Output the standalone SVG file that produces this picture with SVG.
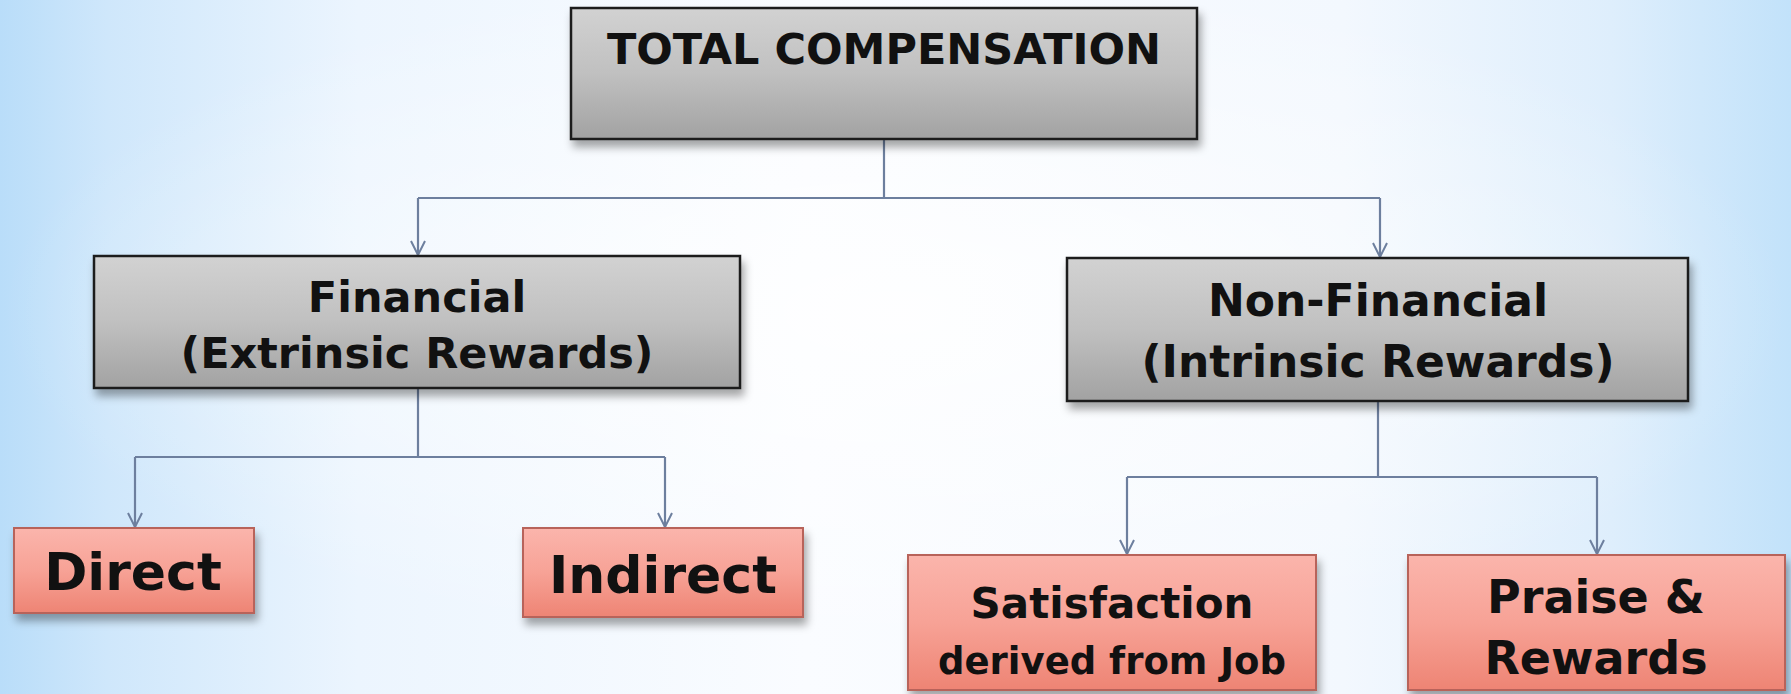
<svg xmlns="http://www.w3.org/2000/svg" width="1791" height="694" viewBox="0 0 1791 694">
  <defs>
    <linearGradient id="bgh" x1="0" y1="0" x2="1" y2="0">
      <stop offset="0" stop-color="#b9ddf9"/>
      <stop offset="0.06" stop-color="#cfe7fb"/>
      <stop offset="0.2" stop-color="#ecf5fe"/>
      <stop offset="0.45" stop-color="#fafcff"/>
      <stop offset="0.75" stop-color="#f3f8fe"/>
      <stop offset="0.9" stop-color="#deeefc"/>
      <stop offset="1" stop-color="#c2e2fa"/>
    </linearGradient>
    <radialGradient id="glow" cx="0.5" cy="0.45" r="0.5">
      <stop offset="0" stop-color="#ffffff" stop-opacity="0.8"/>
      <stop offset="1" stop-color="#ffffff" stop-opacity="0"/>
    </radialGradient>
    <linearGradient id="grey" x1="0" y1="0" x2="0" y2="1">
      <stop offset="0" stop-color="#d2d2d2"/>
      <stop offset="0.5" stop-color="#c0c0c0"/>
      <stop offset="1" stop-color="#a2a2a2"/>
    </linearGradient>
    <linearGradient id="pink" x1="0" y1="0" x2="0" y2="1">
      <stop offset="0" stop-color="#fbb5ac"/>
      <stop offset="0.5" stop-color="#f7a296"/>
      <stop offset="1" stop-color="#ee8474"/>
    </linearGradient>
    <filter id="sh" x="-10%" y="-10%" width="125%" height="140%">
      <feDropShadow dx="3" dy="7" stdDeviation="4" flood-color="#000" flood-opacity="0.35"/>
    </filter>
    <marker id="arr" markerWidth="20" markerHeight="20" refX="10" refY="18" orient="0" markerUnits="userSpaceOnUse">
      <polyline points="3,4 10,18 17,4" fill="none" stroke="#6d7f9e" stroke-width="2"/>
    </marker>
    <style>
      .g { fill: url(#grey); stroke: #1e1e1e; stroke-width: 2.5; filter: url(#sh); }
      .p { fill: url(#pink); stroke: #b8645a; stroke-width: 2; filter: url(#sh); }
      text { font-family: "DejaVu Sans", "Liberation Sans", sans-serif; font-weight: bold; fill: #111; text-anchor: middle; }
      .c { fill: none; stroke: #6d7f9e; stroke-width: 2.2; }
    </style>
  </defs>
  <rect width="1791" height="694" fill="url(#bgh)"/>
  <rect width="1791" height="694" fill="url(#glow)"/>

  <g id="connectors">
    <path class="c" d="M884,139 V198"/>
    <path class="c" d="M418,198 H1380"/>
    <path class="c" d="M418,198 V255" marker-end="url(#arr)"/>
    <path class="c" d="M1380,198 V257" marker-end="url(#arr)"/>
    <path class="c" d="M418,388 V457"/>
    <path class="c" d="M135,457 H665"/>
    <path class="c" d="M135,457 V527" marker-end="url(#arr)"/>
    <path class="c" d="M665,457 V527" marker-end="url(#arr)"/>
    <path class="c" d="M1378,401 V477"/>
    <path class="c" d="M1127,477 H1597"/>
    <path class="c" d="M1127,477 V554" marker-end="url(#arr)"/>
    <path class="c" d="M1597,477 V554" marker-end="url(#arr)"/>
  </g>

  <g id="total">
    <rect class="g" x="571" y="8" width="626" height="131"/>
    <text x="884" y="64" font-size="43">TOTAL COMPENSATION</text>
  </g>
  <g id="financial">
    <rect class="g" x="94" y="256" width="646" height="132"/>
    <text x="417" y="312" font-size="43">Financial</text>
    <text x="417" y="368" font-size="43">(Extrinsic Rewards)</text>
  </g>
  <g id="nonfinancial">
    <rect class="g" x="1067" y="258" width="621" height="143"/>
    <text x="1378" y="316" font-size="44">Non-Financial</text>
    <text x="1378" y="377" font-size="44">(Intrinsic Rewards)</text>
  </g>
  <g id="direct">
    <rect class="p" x="14" y="528" width="240" height="85"/>
    <text x="133" y="590" font-size="52">Direct</text>
  </g>
  <g id="indirect">
    <rect class="p" x="523" y="528" width="280" height="89"/>
    <text x="663" y="593" font-size="52">Indirect</text>
  </g>
  <g id="satisfaction">
    <rect class="p" x="908" y="555" width="408" height="135"/>
    <text x="1112" y="618" font-size="42">Satisfaction</text>
    <text x="1112" y="674" font-size="37">derived from Job</text>
  </g>
  <g id="praise">
    <rect class="p" x="1408" y="555" width="377" height="135"/>
    <text x="1596" y="613" font-size="46">Praise &amp;</text>
    <text x="1596" y="674" font-size="46">Rewards</text>
  </g>
</svg>
